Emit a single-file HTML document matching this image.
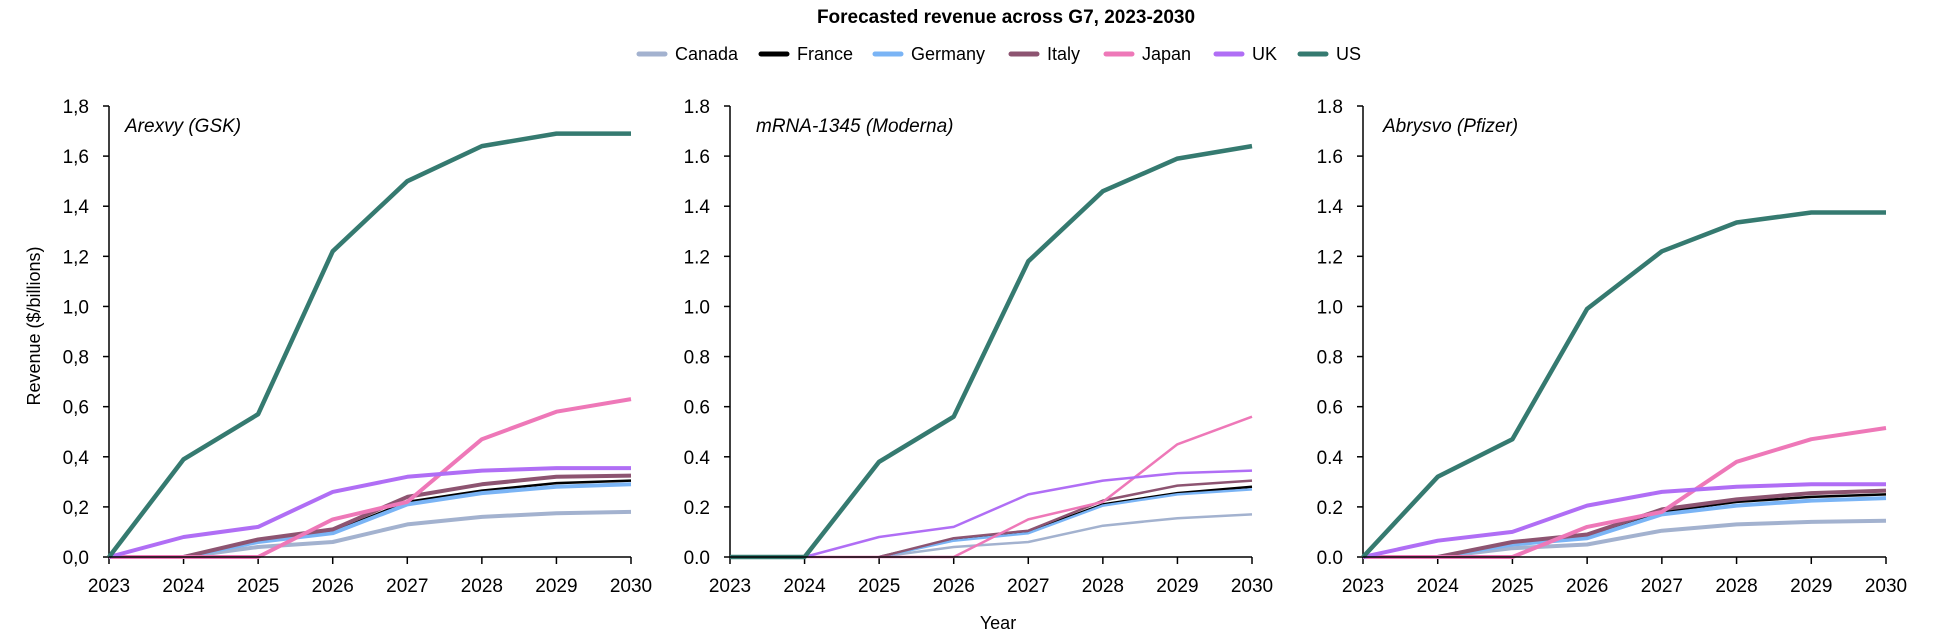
<!DOCTYPE html>
<html><head><meta charset="utf-8"><style>
body{margin:0;background:#fff;}
svg{display:block;font-family:"Liberation Sans",sans-serif;}
</style></head><body>
<svg id="chart" width="1938" height="638">
<text x="1006" y="23" text-anchor="middle" font-weight="bold" font-size="19">Forecasted revenue across G7, 2023-2030</text>
<g id="legend"></g>
<text x="998" y="629" text-anchor="middle" font-size="18">Year</text>
<text transform="translate(40,326) rotate(-90)" text-anchor="middle" font-size="18">Revenue ($/billions)</text>
</svg>
<script>
const years = [2023,2024,2025,2026,2027,2028,2029,2030];
const countries = ["Canada","France","Germany","Italy","Japan","UK","US"];
const colors = ["#a3b2cf","#000000","#7ab4f5","#8d5471","#ee78b8","#b06ef5","#357a70"];
const yTicks = [0,0.2,0.4,0.6,0.8,1.0,1.2,1.4,1.6,1.8];
const panelTitles = ["Arexvy (GSK)","mRNA-1345 (Moderna)","Abrysvo (Pfizer)"];
const gskCanada = [null,0,0.04,0.06,0.13,0.16,0.175,0.18];
const gskFrance = [null,0,0.06,0.10,0.22,0.265,0.295,0.305];
const gskGermany = [null,0,0.06,0.095,0.21,0.255,0.28,0.29];
const gskItaly = [null,0,0.07,0.11,0.24,0.29,0.32,0.325];
const gskJapan = [0,0,0,0.15,0.22,0.47,0.58,0.63];
const gskUK = [0,0.08,0.12,0.26,0.32,0.345,0.355,0.355];
const gskUS = [0,0.39,0.57,1.22,1.50,1.64,1.69,1.69];
const modCanada = [null,null,0,0.04,0.06,0.125,0.155,0.17];
const modFrance = [null,null,0,0.07,0.10,0.21,0.255,0.28];
const modGermany = [null,null,0,0.065,0.095,0.205,0.25,0.27];
const modItaly = [null,null,0,0.075,0.105,0.225,0.285,0.305];
const modJapan = [null,0,0,0,0.15,0.22,0.45,0.56];
const modUK = [null,0,0.08,0.12,0.25,0.305,0.335,0.345];
const modUS = [0,0,0.38,0.56,1.18,1.46,1.59,1.64];
const pfzCanada = [null,0,0.035,0.05,0.105,0.13,0.14,0.145];
const pfzFrance = [null,0,0.055,0.08,0.18,0.22,0.24,0.25];
const pfzGermany = [null,0,0.05,0.075,0.17,0.205,0.225,0.235];
const pfzItaly = [null,0,0.06,0.09,0.19,0.23,0.255,0.265];
const pfzJapan = [0,0,0,0.12,0.18,0.38,0.47,0.515];
const pfzUK = [0,0.065,0.10,0.205,0.26,0.28,0.29,0.29];
const pfzUS = [0,0.32,0.47,0.99,1.22,1.335,1.375,1.375];

const NS="http://www.w3.org/2000/svg";
const svg=document.getElementById('chart');
function mk(tag,attrs,parent){const e=document.createElementNS(NS,tag);for(const k in attrs)e.setAttribute(k,attrs[k]);(parent||svg).appendChild(e);return e;}

const panels=[
 {x0:109,x1:631,series:[gskCanada,gskFrance,gskGermany,gskItaly,gskJapan,gskUK,gskUS],comma:true,thin:false},
 {x0:730,x1:1252,series:[modCanada,modFrance,modGermany,modItaly,modJapan,modUK,modUS],comma:false,thin:true},
 {x0:1363,x1:1886,series:[pfzCanada,pfzFrance,pfzGermany,pfzItaly,pfzJapan,pfzUK,pfzUS],comma:false,thin:false}
];
const yTop=106,yBot=557;
panels.forEach((p,pi)=>{
  const g=mk('g',{});
  
  
  const xs=i=>p.x0+(p.x1-p.x0)*i/(years.length-1);
  const ys=v=>yBot-(yBot-yTop)*v/1.8;
  const ax=mk('line',{x1:p.x0,y1:yTop,x2:p.x0,y2:yBot,stroke:'#000','stroke-width':1.5},g);
  
  
  yTicks.forEach(t=>{
    mk('line',{x1:p.x0-6,y1:ys(t),x2:p.x0,y2:ys(t),stroke:'#000','stroke-width':1.5},g);
    const lbl=mk('text',{x:p.x0-20,y:ys(t)+7,'text-anchor':'end','font-size':19},g);
    let s=t.toFixed(1); if(p.comma)s=s.replace('.',',');
    lbl.textContent=s;
    
    
  });
  years.forEach((yr,i)=>{
    mk('line',{x1:xs(i),y1:yBot,x2:xs(i),y2:yBot+7,stroke:'#000','stroke-width':1.5},g);
    const lbl=mk('text',{x:xs(i),y:yBot+35,'text-anchor':'middle','font-size':19},g);
    lbl.textContent=yr;
    
    
  });
  p.series.forEach((data,si)=>{
    let d='';
    data.forEach((v,i)=>{if(v===null)return;d+=(d?'L':'M')+xs(i).toFixed(1)+','+ys(v).toFixed(1);});
    const w=(si===6)?4.5:(p.thin?2.5:(si===1?2.5:4));
    const path=mk('path',{d:d,fill:'none',stroke:colors[si],'stroke-width':w,'stroke-linejoin':'round'},g);
    
    
  });
  const xa=mk('line',{x1:p.x0,y1:yBot,x2:p.x1,y2:yBot,stroke:'#000','stroke-width':1.5},g);
  
  
  const tt=mk('text',{x:[125,756,1383][pi],y:132,'font-size':19,'font-style':'italic'},g);
  tt.textContent=panelTitles[pi];
  
  
});
const legX=[639,761,875,1011,1106,1216,1300];
const lg=document.getElementById('legend');
countries.forEach((c,i)=>{
  const it=mk('g',{},lg);
  
  
  mk('line',{x1:legX[i],y1:54,x2:legX[i]+26,y2:54,stroke:colors[i],'stroke-width':5,'stroke-linecap':'round'},it);
  const t=mk('text',{x:legX[i]+36,y:60,'font-size':18},it);
  t.textContent=c;
});
</script>
</body></html>
